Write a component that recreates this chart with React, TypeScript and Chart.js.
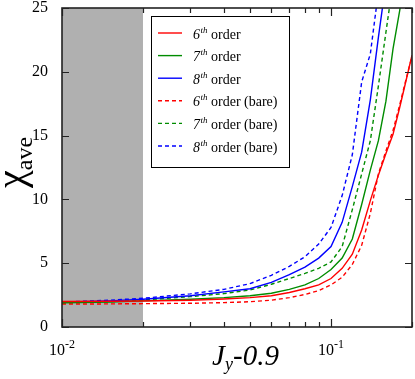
import React, { useEffect, useRef } from 'react';
import { Chart, registerables } from 'chart.js';

Chart.register(...registerables);

const xValues = [0.01, 0.015, 0.02, 0.03, 0.04, 0.05, 0.06, 0.07, 0.08, 0.09, 0.1, 0.11, 0.12, 0.13, 0.14, 0.15, 0.16, 0.17, 0.18, 0.19, 0.2];

const order6 = [2.0, 2.02, 2.04, 2.1, 2.2, 2.3, 2.45, 2.7, 3.0, 3.3, 3.8, 4.6, 5.7, 7.6, 9.9, 11.9, 13.6, 15.1, 17.2, 19.3, 21.3];
const order7 = [1.9, 1.96, 2.05, 2.18, 2.3, 2.45, 2.65, 2.95, 3.3, 3.8, 4.5, 5.4, 6.9, 9.6, 12.3, 14.6, 17.7, 21.8, 24.8, 28.0];
const order8 = [1.95, 2.05, 2.17, 2.45, 2.75, 3.0, 3.5, 4.1, 4.7, 5.4, 6.3, 8.2, 11.0, 13.7, 17.8, 22.7, 27.0];
const bare6 = [1.8, 1.81, 1.83, 1.86, 1.91, 1.98, 2.1, 2.3, 2.55, 2.85, 3.3, 3.9, 4.9, 6.4, 8.9, 12.0, 13.8, 15.4, 17.4, 19.4, 21.2];
const bare7 = [1.88, 1.98, 2.12, 2.38, 2.62, 2.9, 3.35, 3.8, 4.2, 4.6, 5.1, 6.3, 9.2, 12.0, 14.6, 18.9, 23.1, 27.0];
const bare8 = [1.95, 2.1, 2.25, 2.6, 2.95, 3.4, 4.05, 4.75, 5.5, 6.5, 7.8, 10.3, 13.5, 19.2, 21.4, 26.3];

const seriesOrders = ['6', '7', '8', '6', '7', '8'];
const seriesSuffix = [' order', ' order', ' order', ' order (bare)', ' order (bare)', ' order (bare)'];
const seriesColors = ['#ff0000', '#008c00', '#0000ff', '#ff0000', '#008c00', '#0000ff'];
const seriesData = [order6, order7, order8, bare6, bare7, bare8];
const seriesDashed = [false, false, false, true, true, true];

const yTicks = [0, 5, 10, 15, 20, 25];
const xMajorTicks = [0.01, 0.1];
const xMinorTicks = [0.02, 0.03, 0.04, 0.05, 0.06, 0.07, 0.08, 0.09, 0.2];
const xTickLabels = [
  { value: 0.01, base: '10', exp: '-2' },
  { value: 0.1, base: '10', exp: '-1' },
];
const shadedRange = [0.01, 0.02];

const SERIF = '"Liberation Serif", "Times New Roman", serif';

const decorPlugin = {
  id: 'decor',
  beforeDatasetsDraw(chart: any) {
    const { ctx, chartArea, scales } = chart;
    const x0 = scales.x.getPixelForValue(shadedRange[0]);
    const x1 = scales.x.getPixelForValue(shadedRange[1]);
    ctx.save();
    ctx.fillStyle = '#b0b0b0';
    ctx.fillRect(x0, chartArea.top, x1 - x0, chartArea.bottom - chartArea.top);
    ctx.restore();
  },
  afterDatasetsDraw(chart: any) {
    const { ctx, chartArea, scales } = chart;
    const { left, right, top, bottom } = chartArea;
    ctx.save();
    ctx.strokeStyle = '#222';
    ctx.lineWidth = 1.2;
    ctx.beginPath();
    const xTick = (v: number, len: number) => {
      const px = Math.round(scales.x.getPixelForValue(v)) + 0.5;
      ctx.moveTo(px, bottom);
      ctx.lineTo(px, bottom - len);
      ctx.moveTo(px, top);
      ctx.lineTo(px, top + len);
    };
    xMajorTicks.forEach((v) => xTick(v, 8));
    xMinorTicks.forEach((v) => xTick(v, 5));
    yTicks.forEach((v) => {
      const py = Math.round(scales.y.getPixelForValue(v)) + 0.5;
      ctx.moveTo(left, py);
      ctx.lineTo(left + 7, py);
      ctx.moveTo(right, py);
      ctx.lineTo(right - 7, py);
    });
    ctx.stroke();
    ctx.lineWidth = 1.6;
    ctx.strokeRect(left, top, right - left, bottom - top);
    ctx.restore();

    // legend
    ctx.save();
    const bx = 151, by = 16, bw = 138, bh = 151;
    ctx.fillStyle = '#fff';
    ctx.fillRect(bx, by, bw, bh);
    ctx.strokeStyle = '#000';
    ctx.lineWidth = 1;
    ctx.strokeRect(bx + 0.5, by + 0.5, bw, bh);
    for (let i = 0; i < seriesOrders.length; i++) {
      const cy = 33 + i * 22.6;
      ctx.beginPath();
      ctx.strokeStyle = seriesColors[i];
      ctx.lineWidth = 1.4;
      ctx.setLineDash(seriesDashed[i] ? [4, 3] : []);
      ctx.moveTo(158, cy);
      ctx.lineTo(182, cy);
      ctx.stroke();
      ctx.setLineDash([]);
      ctx.fillStyle = '#000';
      ctx.textBaseline = 'alphabetic';
      ctx.textAlign = 'left';
      let x = 193;
      const base = cy + 5.5;
      ctx.font = `italic 14px ${SERIF}`;
      ctx.fillText(seriesOrders[i], x, base);
      x += ctx.measureText(seriesOrders[i]).width;
      ctx.font = `italic 9px ${SERIF}`;
      ctx.fillText('th', x + 0.5, base - 6);
      x += ctx.measureText('th').width + 0.5;
      ctx.font = `14px ${SERIF}`;
      ctx.fillText(seriesSuffix[i], x, base);
    }
    ctx.restore();
  },
  afterDraw(chart: any) {
    const { ctx, scales } = chart;
    ctx.save();
    ctx.fillStyle = '#000';
    ctx.textBaseline = 'alphabetic';
    ctx.textAlign = 'left';
    xTickLabels.forEach((t) => {
      const px = scales.x.getPixelForValue(t.value);
      ctx.font = `16px ${SERIF}`;
      const wb = ctx.measureText(t.base).width;
      ctx.font = `12px ${SERIF}`;
      const we = ctx.measureText(t.exp).width;
      const start = px - (wb + we) / 2;
      ctx.font = `16px ${SERIF}`;
      ctx.fillText(t.base, start, 355);
      ctx.font = `12px ${SERIF}`;
      ctx.fillText(t.exp, start + wb, 348);
    });
    const big = `italic 29px ${SERIF}`;
    const sub = `italic 18px ${SERIF}`;
    ctx.font = big;
    const wJ = ctx.measureText('J').width;
    const wR = ctx.measureText('-0.9').width;
    ctx.font = sub;
    const wy = ctx.measureText('y').width;
    const total = wJ + wy + wR;
    let sx = 245.5 - total / 2;
    ctx.font = big;
    ctx.fillText('J', sx, 365);
    sx += wJ;
    ctx.font = sub;
    ctx.fillText('y', sx, 370);
    sx += wy;
    ctx.font = big;
    ctx.fillText('-0.9', sx, 365);
    ctx.translate(24, 188);
    ctx.rotate(-Math.PI / 2);
    ctx.font = `40px ${SERIF}`;
    ctx.fillText('χ', 0, 0);
    const wc = ctx.measureText('χ').width;
    ctx.font = `24px ${SERIF}`;
    ctx.fillText('ave', wc, 8);
    ctx.restore();
  },
};

export default function App() {
  const canvasRef = useRef<HTMLCanvasElement | null>(null);

  useEffect(() => {
    const canvas = canvasRef.current;
    if (!canvas) return;
    const datasets = seriesData.map((arr, i) => ({
      label: seriesOrders[i] + 'th' + seriesSuffix[i],
      data: arr.map((y, j) => ({ x: xValues[j], y })),
      borderColor: seriesColors[i],
      backgroundColor: seriesColors[i],
      borderWidth: 1.4,
      borderDash: seriesDashed[i] ? [4, 3] : [],
      pointRadius: 0,
      tension: 0,
      fill: false,
    }));
    const chart = new Chart(canvas, {
      type: 'line',
      data: { datasets },
      plugins: [decorPlugin],
      options: {
        animation: false,
        responsive: false,
        devicePixelRatio: 1,
        layout: { padding: { left: 0, right: 3, top: 8, bottom: 0 } },
        plugins: { legend: { display: false }, tooltip: { enabled: false } },
        scales: {
          x: {
            type: 'logarithmic',
            min: 0.01,
            max: 0.2,
            grid: { display: false },
            border: { display: false },
            ticks: { display: false },
            afterFit: (scale: any) => {
              scale.height = 52;
              scale.paddingLeft = 0;
              scale.paddingRight = 0;
            },
          },
          y: {
            type: 'linear',
            min: 0,
            max: 25,
            grid: { display: false },
            border: { display: false },
            ticks: {
              stepSize: 5,
              color: '#000',
              padding: 6,
              font: { family: SERIF, size: 16 },
            },
            afterFit: (scale: any) => {
              scale.width = 62;
              scale.paddingTop = 0;
              scale.paddingBottom = 0;
            },
          },
        },
      },
    });
    return () => chart.destroy();
  }, []);

  return (
    <div style={{ position: 'absolute', left: 0, top: 0, width: 415, height: 379, background: '#fff' }}>
      <canvas ref={canvasRef} width={415} height={379} />
    </div>
  );
}
